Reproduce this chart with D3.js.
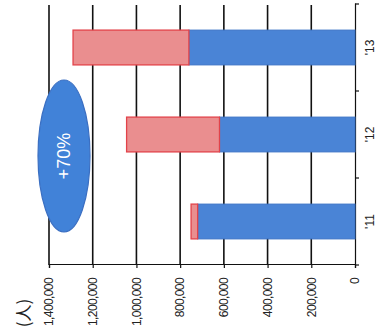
<!DOCTYPE html>
<html>
<head>
<meta charset="utf-8">
<script src="https://cdn.jsdelivr.net/npm/d3@7"></script>
<style>
  html, body { margin: 0; padding: 0; background: #fff; }
  svg { display: block; }
  .tick-label { font-family: "Liberation Sans", sans-serif; font-size: 12px; fill: #222; }
  .value-label { letter-spacing: -0.6px; }
</style>
</head>
<body>
<svg id="chart" width="383" height="336"></svg>
<script>
// Yearly totals (persons), stacked: base part and added part
const categories = ["'11", "'12", "'13"];
const baseValues = [720000, 620000, 760000];
const addedValues = [30000, 425000, 530000];
const tickValues = [0, 200000, 400000, 600000, 800000, 1000000, 1200000, 1400000];
const unitLabel = "(人)";
const growthLabel = "+70%";

const W = 383, H = 336;
const svg = d3.select("#chart");

// The chart is laid out as an upright column chart and then turned a quarter
// turn counter-clockwise, so the value axis runs right-to-left on screen.
const g = svg.append("g").attr("transform", `translate(0,${H}) rotate(-90)`);

const x = d3.scaleBand().domain(categories).range([71, 332])
  .paddingInner(0.6).paddingOuter(0.3);
const y = d3.scaleLinear().domain([0, 1400000]).range([355, 49]);

// Horizontal gridlines
g.append("g").selectAll("line")
  .data(tickValues.filter(d => d > 0))
  .join("line")
  .attr("x1", 71).attr("x2", 331)
  .attr("y1", d => y(d)).attr("y2", d => y(d))
  .attr("stroke", "#111").attr("stroke-width", 1.6);

// Value axis
const yAxis = d3.axisLeft(y).tickValues(tickValues).tickSize(3).tickPadding(10)
  .tickFormat(d3.format(","));
const ya = g.append("g").attr("transform", "translate(71,0)").call(yAxis);
ya.select(".domain").attr("stroke", "#111").attr("stroke-width", 1.2);
ya.selectAll(".tick line").attr("stroke", "#111").attr("stroke-width", 1.2);
ya.selectAll(".tick text").attr("class", "tick-label value-label")
  .attr("font-size", null).attr("font-family", null);

// Category axis at zero
const xAxis = d3.axisBottom(x).tickSize(0).tickPadding(0);
const xa = g.append("g").attr("transform", `translate(0,${y(0)})`).call(xAxis);
xa.select(".domain").attr("stroke", "#111").attr("stroke-width", 1.2);
xa.selectAll(".tick text").attr("class", "tick-label").attr("font-size", null)
  .attr("font-family", null).attr("dy", "0").attr("y", 19);
// small ticks between categories
const step = x.step();
g.append("g").selectAll("line")
  .data(d3.range(categories.length + 1))
  .join("line")
  .attr("x1", i => 71 + i * step).attr("x2", i => 71 + i * step)
  .attr("y1", y(0)).attr("y2", y(0) + 4)
  .attr("stroke", "#111").attr("stroke-width", 1.2);

// Stacked bars
const rows = categories.map((c, i) => ({ c, base: baseValues[i], added: addedValues[i] }));
g.append("g").selectAll("rect.base")
  .data(rows).join("rect")
  .attr("x", d => x(d.c)).attr("width", x.bandwidth())
  .attr("y", d => y(d.base)).attr("height", d => y(0) - y(d.base))
  .attr("fill", "#4a84d6").attr("stroke", "#3d74c6").attr("stroke-width", 1);
g.append("g").selectAll("rect.added")
  .data(rows).join("rect")
  .attr("x", d => x(d.c)).attr("width", x.bandwidth())
  .attr("y", d => y(d.base + d.added)).attr("height", d => y(d.base) - y(d.base + d.added))
  .attr("fill", "#ea8e8f").attr("stroke", "#e2434a").attr("stroke-width", 1.3);

// Unit label
g.append("text")
  .attr("x", 23).attr("y", 30)
  .attr("text-anchor", "middle")
  .attr("font-family", "'Noto Sans CJK JP', sans-serif")
  .attr("font-size", 17).attr("fill", "#222")
  .text(unitLabel);

// Growth callout
const calloutX = 180, calloutY = 64;
g.append("ellipse")
  .attr("cx", calloutX).attr("cy", calloutY).attr("rx", 76).attr("ry", 26)
  .attr("fill", "#4182d8").attr("stroke", "#3b6fc2").attr("stroke-width", 1.2);
g.append("text")
  .attr("x", calloutX).attr("y", calloutY).attr("dy", "0.36em")
  .attr("text-anchor", "middle")
  .attr("font-family", "'Liberation Sans', Arial, sans-serif")
  .attr("font-size", 18).attr("fill", "#fff")
  .text(growthLabel);
</script>
</body>
</html>
